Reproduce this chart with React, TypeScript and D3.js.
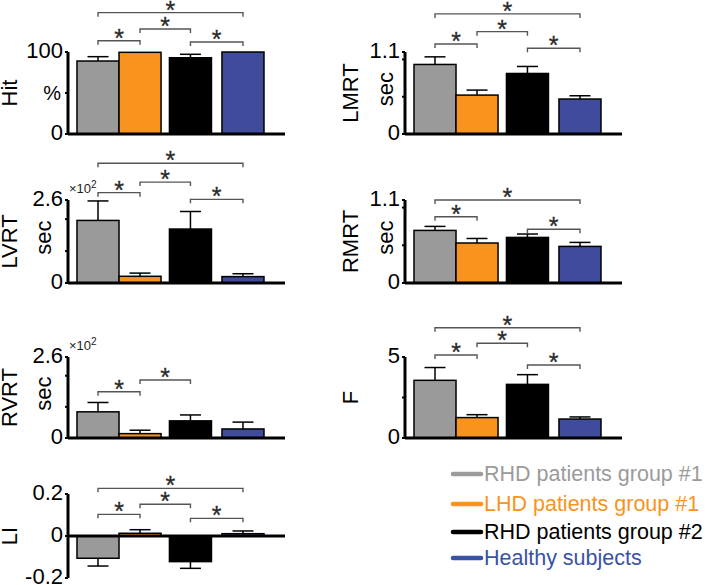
import * as d3 from "d3";

const groups = [
  "RHD patients group #1",
  "LHD patients group #1",
  "RHD patients group #2",
  "Healthy subjects",
];
const barColors = ["#9a9a9a", "#f7931e", "#000000", "#3f4b9b"];
const legendColors = ["#9b9b9b", "#f7941d", "#000000", "#3953a4"];
const barPositions = [1, 2, 3.2, 4.45];

// means and SEM per measure (group order as above)
const hitMean = [89, 99.6, 93, 100];
const hitSem = [5.3, 0, 4.2, 0];
const lmrtMean = [0.933, 0.522, 0.812, 0.469];
const lmrtSem = [0.102, 0.067, 0.094, 0.044];
const lvrtMean = [1.96, 0.21, 1.69, 0.2];
const lvrtSem = [0.61, 0.1, 0.55, 0.09];
const rmrtMean = [0.697, 0.53, 0.604, 0.485];
const rmrtSem = [0.053, 0.06, 0.045, 0.053];
const rvrtMean = [0.84, 0.14, 0.55, 0.29];
const rvrtSem = [0.3, 0.11, 0.19, 0.22];
const fMean = [3.56, 1.26, 3.31, 1.17];
const fSem = [0.79, 0.18, 0.6, 0.13];
const liMean = [-0.106, 0.013, -0.122, 0.011];
const liSem = [0.037, 0.017, 0.032, 0.013];

// significance brackets: [from group, to group, height in data units]
const hitBrackets = [[0, 1, 113.8], [1, 2, 128], [2, 3, 112.2], [0, 3, 148]];
const lmrtBrackets = [[0, 1, 1.208], [1, 2, 1.373], [2, 3, 1.15], [0, 3, 1.611]];
const lvrtBrackets = [[0, 1, 2.83], [1, 2, 3.16], [2, 3, 2.62], [0, 3, 3.75]];
const rmrtBrackets = [[0, 1, 0.879], [2, 3, 0.712], [0, 3, 1.1]];
const rvrtBrackets = [[0, 1, 1.486], [1, 2, 1.862]];
const fBrackets = [[0, 1, 5.12], [1, 2, 5.85], [2, 3, 4.51], [0, 3, 6.81]];
const liBrackets = [[0, 1, 0.103], [1, 2, 0.151], [2, 3, 0.084], [0, 3, 0.227]];

const FONT = "'Liberation Sans', Arial, Helvetica, sans-serif";
const colX = [68, 405];

type PanelProps = {
  name: string;
  mean: number[];
  sem: number[];
  domain: [number, number];
  ticks: number[];
  labels: number[];
  labelText?: string[];
  unit?: string;
  unitAt?: number;
  exponent?: boolean;
  brackets: number[][];
  col: number;
  top: number;
  bottom: number;
};

function Panel(p: PanelProps) {
  const ax = colX[p.col];
  const x = d3.scaleLinear().domain([0.286, 5.45]).range([ax, ax + 217]);
  const y = d3.scaleLinear().domain(p.domain).range([p.bottom, p.top]);
  const bw = x(1.5) - x(0.5);
  const zero = y(0);
  const mid = (p.top + p.bottom) / 2;
  const outerX = p.col === 0 ? 17 : 358;
  return (
    <g>
      {p.mean.map((m, i) => {
        const cx = x(barPositions[i]);
        const end = m + (m >= 0 ? p.sem[i] : -p.sem[i]);
        return (
          <g key={i}>
            {p.sem[i] > 0 && (
              <g stroke="#000" strokeWidth={1.5}>
                <line x1={cx} x2={cx} y1={y(m)} y2={y(end)} />
                <line x1={cx - 10.5} x2={cx + 10.5} y1={y(end)} y2={y(end)} />
              </g>
            )}
            <rect
              x={cx - bw / 2}
              y={Math.min(y(m), zero)}
              width={bw}
              height={Math.abs(y(m) - zero)}
              fill={barColors[i]}
              stroke="#000"
              strokeWidth={1.5}
            />
          </g>
        );
      })}
      {/* axes */}
      <line x1={ax} x2={ax + 217} y1={zero} y2={zero} stroke="#000" strokeWidth={3} />
      <line x1={ax} x2={ax} y1={p.top} y2={p.bottom} stroke="#000" strokeWidth={3} />
      {p.ticks.map((t) => (
        <line key={t} x1={ax - 3} x2={ax} y1={y(t)} y2={y(t)} stroke="#000" strokeWidth={2} />
      ))}
      {p.labels.map((t, i) => (
        <text
          key={t}
          x={ax - 5}
          y={y(t) - 2}
          textAnchor="end"
          dominantBaseline="central"
          fontSize={22}
          fontFamily={FONT}
        >
          {p.labelText ? p.labelText[i] : String(t)}
        </text>
      ))}
      {p.exponent && (
        <text x={ax + 1} y={p.top - 7} fontSize={13} fontFamily={FONT} fill="#222">
          ×10
          <tspan dy={-5} fontSize={10}>
            2
          </tspan>
        </text>
      )}
      {p.unit === "%" && (
        <text
          x={ax - 7}
          y={y(p.unitAt ?? 0)}
          textAnchor="end"
          dominantBaseline="central"
          fontSize={20}
          fontFamily={FONT}
        >
          %
        </text>
      )}
      {p.unit === "sec" && (
        <text
          transform={`translate(${ax - (p.col === 0 ? 17 : 12)},${mid - 4}) rotate(-90)`}
          textAnchor="middle"
          fontSize={22}
          fontFamily={FONT}
        >
          sec
        </text>
      )}
      <text
        transform={`translate(${outerX},${mid}) rotate(-90)`}
        textAnchor="middle"
        fontSize={22}
        fontFamily={FONT}
      >
        {p.name}
      </text>
      {p.brackets.map(([a, b, h], k) => {
        const x1 = x(barPositions[a]);
        const x2 = x(barPositions[b]);
        const yy = y(h);
        return (
          <g key={k}>
            <path
              d={`M${x1},${yy + 4}V${yy}H${x2}V${yy + 4}`}
              fill="none"
              stroke="#555"
              strokeWidth={1.4}
            />
            <text
              x={(x1 + x2) / 2}
              y={yy + 6}
              textAnchor="middle"
              fontSize={25}
              fontFamily={FONT}
              fill="#2a2a2a"
              stroke="#2a2a2a"
              strokeWidth={0.3}
            >
              *
            </text>
          </g>
        );
      })}
    </g>
  );
}

export default function App() {
  const legendY = [474, 504, 532, 558];
  return (
    <svg
      width={708}
      height={585}
      style={{ position: "absolute", left: 0, top: 0, background: "#fff" }}
    >
      <Panel name="Hit" mean={hitMean} sem={hitSem} domain={[0, 100]} ticks={[0, 50, 100]}
        labels={[0, 100]} unit="%" unitAt={50} brackets={hitBrackets} col={0} top={52} bottom={134} />
      <Panel name="LMRT" mean={lmrtMean} sem={lmrtSem} domain={[0, 1.1]} ticks={[0, 0.5, 1, 1.1]}
        labels={[0, 1.1]} unit="sec" brackets={lmrtBrackets} col={1} top={52} bottom={134} />
      <Panel name="LVRT" mean={lvrtMean} sem={lvrtSem} domain={[0, 2.6]} ticks={[0, 1, 2, 2.6]}
        labels={[0, 2.6]} unit="sec" exponent brackets={lvrtBrackets} col={0} top={200} bottom={283} />
      <Panel name="RMRT" mean={rmrtMean} sem={rmrtSem} domain={[0, 1.1]} ticks={[0, 0.5, 1, 1.1]}
        labels={[0, 1.1]} unit="sec" brackets={rmrtBrackets} col={1} top={200} bottom={283} />
      <Panel name="RVRT" mean={rvrtMean} sem={rvrtSem} domain={[0, 2.6]} ticks={[0, 1, 2, 2.6]}
        labels={[0, 2.6]} unit="sec" exponent brackets={rvrtBrackets} col={0} top={357} bottom={438} />
      <Panel name="F" mean={fMean} sem={fSem} domain={[0, 5]} ticks={[0, 2.5, 5]}
        labels={[0, 5]} brackets={fBrackets} col={1} top={357} bottom={438} />
      <Panel name="LI" mean={liMean} sem={liSem} domain={[-0.2, 0.2]} ticks={[-0.2, 0, 0.2]}
        labels={[-0.2, 0, 0.2]} labelText={["-0.2", "0", "0.2"]} brackets={liBrackets}
        col={0} top={494} bottom={578} />
      {groups.map((g, i) => (
        <g key={g}>
          <line x1={453} x2={481} y1={legendY[i]} y2={legendY[i]} stroke={legendColors[i]}
            strokeWidth={4.5} strokeLinecap="round" />
          <text x={484} y={legendY[i]} dominantBaseline="central" fontSize={21.5}
            fontFamily={FONT} fill={legendColors[i]}>
            {g}
          </text>
        </g>
      ))}
    </svg>
  );
}
